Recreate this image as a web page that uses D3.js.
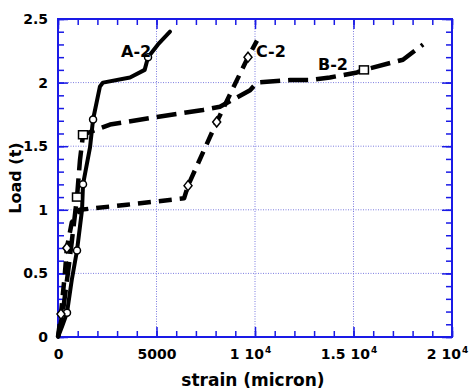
<!DOCTYPE html>
<html>
<head>
<meta charset="utf-8">
<script src="https://cdn.jsdelivr.net/npm/d3@7"></script>
<style>
  html, body { margin: 0; padding: 0; background: #fff; }
  svg { display: block; }
  text { font-family: "DejaVu Sans", "Liberation Sans", Arial, sans-serif; font-weight: bold; fill: #000; }
</style>
</head>
<body>
<svg id="chart" width="471" height="392"></svg>
<script>
// Load–strain curves of three specimens (strain in micron, load in t)
const a2Strain = [0, 200, 457, 700, 965, 1220, 1270, 1625, 1780, 2130, 2285, 3655, 4400, 4570, 5075, 5685];
const a2Load   = [0, 0.08, 0.19, 0.45, 0.68, 1.0, 1.2, 1.49, 1.71, 1.97, 2.0, 2.04, 2.1, 2.2, 2.3, 2.4];
const a2MarkStrain = [457, 965, 1270, 1780, 4570];
const a2MarkLoad   = [0.19, 0.68, 1.2, 1.71, 2.2];

const b2Strain = [0, 250, 500, 700, 965, 1115, 1270, 2640, 5025, 7360, 8220, 9750, 10100, 11780, 12790, 13800, 15180, 15530, 17510, 18530];
const b2Load   = [0, 0.2, 0.5, 0.75, 1.1, 1.39, 1.59, 1.67, 1.73, 1.785, 1.81, 1.94, 2.0, 2.02, 2.02, 2.04, 2.08, 2.1, 2.18, 2.3];
const b2MarkStrain = [965, 1270, 15530];
const b2MarkLoad   = [1.1, 1.59, 2.1];

const c2Strain = [0, 150, 350, 450, 700, 1100, 3500, 6400, 6600, 8055, 9645, 10100];
const c2Load   = [0, 0.18, 0.5, 0.7, 0.9, 1.0, 1.04, 1.09, 1.19, 1.69, 2.2, 2.33];
const c2MarkStrain = [150, 450, 6600, 8055, 9645];
const c2MarkLoad   = [0.18, 0.7, 1.19, 1.69, 2.2];

const xMajor = [0, 5000, 10000, 15000, 20000];
const xTickText = ["0", "5000", "1 10", "1.5 10", "2 10"];
const xTickExp  = ["", "", "4", "4", "4"];
const yMajor = [0, 0.5, 1, 1.5, 2, 2.5];
const yTickText = ["0", "0.5", "1", "1.5", "2", "2.5"];

const seriesNames = ["A-2", "B-2", "C-2"];

const svg = d3.select("#chart");
const W = 471, H = 392;
const m = { left: 58, right: 19, top: 19, bottom: 55 };

const x = d3.scaleLinear().domain([0, 20000]).range([m.left, W - m.right]);
const y = d3.scaleLinear().domain([0, 2.5]).range([H - m.bottom, m.top]);

const axisBlue = "#1a1ae6";
const gridBlue = "#7d7de0";

svg.append("rect").attr("width", W).attr("height", H).attr("fill", "#fff");

// dotted grid at the major ticks
const grid = svg.append("g");
grid.selectAll("line.gx").data(xMajor.slice(1, -1)).join("line")
  .attr("x1", d => x(d)).attr("x2", d => x(d))
  .attr("y1", y(0)).attr("y2", y(2.5))
  .attr("stroke", gridBlue).attr("stroke-width", 1).attr("stroke-dasharray", "1,1.5");
grid.selectAll("line.gy").data(yMajor.slice(1, -1)).join("line")
  .attr("y1", d => y(d)).attr("y2", d => y(d))
  .attr("x1", x(0)).attr("x2", x(20000))
  .attr("stroke", gridBlue).attr("stroke-width", 1).attr("stroke-dasharray", "1,1.5");

// inward ticks on all four sides
const xMinor = d3.range(0, 20001, 1000);
const yMinor = d3.range(0, 26).map(i => i / 10);

function styleAxis(g) {
  g.select(".domain").remove();
  g.selectAll(".tick line").attr("stroke", axisBlue).attr("stroke-width", 1.5);
}

svg.append("g").attr("transform", `translate(0,${y(0)})`)
  .call(d3.axisBottom(x).tickValues(xMinor).tickSize(-6).tickFormat(""))
  .call(styleAxis);
svg.append("g").attr("transform", `translate(0,${y(2.5)})`)
  .call(d3.axisTop(x).tickValues(xMinor).tickSize(-6).tickFormat(""))
  .call(styleAxis);
svg.append("g").attr("transform", `translate(${x(0)},0)`)
  .call(d3.axisLeft(y).tickValues(yMinor).tickSize(-6).tickFormat(""))
  .call(styleAxis);
svg.append("g").attr("transform", `translate(${x(20000)},0)`)
  .call(d3.axisRight(y).tickValues(yMinor).tickSize(-6).tickFormat(""))
  .call(styleAxis);

// major ticks with labels
const xAxisG = svg.append("g").attr("transform", `translate(0,${y(0)})`)
  .call(d3.axisBottom(x).tickValues(xMajor).tickSize(-10).tickPadding(9).tickFormat(""))
  .call(styleAxis);
xAxisG.selectAll(".tick text").each(function(d, i) {
  const t = d3.select(this).attr("font-size", 14).attr("dy", "0.95em")
    .attr("font-family", "DejaVu Sans").attr("font-weight", "bold").attr("fill", "#000");
  const main = t.append("tspan").text(xTickText[i]);
  if (xTickExp[i]) {
    main.attr("dx", -5);
    t.append("tspan").attr("font-size", 9).attr("dy", "-0.7em").attr("dx", "1").text(xTickExp[i]);
  }
});
svg.append("g").attr("transform", `translate(0,${y(2.5)})`)
  .call(d3.axisTop(x).tickValues(xMajor).tickSize(-10).tickFormat(""))
  .call(styleAxis);

const yAxisG = svg.append("g").attr("transform", `translate(${x(0)},0)`)
  .call(d3.axisLeft(y).tickValues(yMajor).tickSize(-10).tickPadding(10)
    .tickFormat((d, i) => yTickText[i]))
  .call(styleAxis);
yAxisG.selectAll(".tick text")
  .attr("font-size", 14).attr("font-family", "DejaVu Sans")
  .attr("font-weight", "bold").attr("fill", "#000");
svg.append("g").attr("transform", `translate(${x(20000)},0)`)
  .call(d3.axisRight(y).tickValues(yMajor).tickSize(-10).tickFormat(""))
  .call(styleAxis);

// frame
svg.append("rect")
  .attr("x", x(0)).attr("y", y(2.5))
  .attr("width", x(20000) - x(0)).attr("height", y(0) - y(2.5))
  .attr("fill", "none").attr("stroke", axisBlue).attr("stroke-width", 2);

// curves
const line = d3.line().x(d => x(d[0])).y(d => y(d[1]));
const zip = (a, b) => a.map((v, i) => [v, b[i]]);

const curves = svg.append("g");
curves.append("path").datum(zip(b2Strain, b2Load)).attr("d", line)
  .attr("fill", "none").attr("stroke", "#000").attr("stroke-width", 4.5)
  .attr("stroke-dasharray", "20,8").attr("stroke-linejoin", "round");
curves.append("path").datum(zip(c2Strain, c2Load)).attr("d", line)
  .attr("fill", "none").attr("stroke", "#000").attr("stroke-width", 4.5)
  .attr("stroke-dasharray", "13,8").attr("stroke-linejoin", "round");
curves.append("path").datum(zip(a2Strain, a2Load)).attr("d", line)
  .attr("fill", "none").attr("stroke", "#000").attr("stroke-width", 4)
  .attr("stroke-linejoin", "round").attr("stroke-linecap", "round");

// markers
const marks = svg.append("g").attr("fill", "#fff").attr("stroke", "#000").attr("stroke-width", 1.5);
marks.selectAll("circle").data(zip(a2MarkStrain, a2MarkLoad)).join("circle")
  .attr("cx", d => x(d[0])).attr("cy", d => y(d[1])).attr("r", 3.5);
marks.selectAll("rect").data(zip(b2MarkStrain, b2MarkLoad)).join("rect")
  .attr("x", d => x(d[0]) - 4.5).attr("y", d => y(d[1]) - 4).attr("width", 9).attr("height", 8);
marks.selectAll("path").data(zip(c2MarkStrain, c2MarkLoad)).join("path")
  .attr("d", d => {
    const cx = x(d[0]), cy = y(d[1]);
    return `M${cx},${cy - 5}L${cx + 4},${cy}L${cx},${cy + 5}L${cx - 4},${cy}Z`;
  });

// series labels
const labelPos = [[3200, 2.2], [13200, 2.1], [10050, 2.2]];
svg.append("g").selectAll("text").data(seriesNames).join("text")
  .attr("x", (d, i) => x(labelPos[i][0]))
  .attr("y", (d, i) => y(labelPos[i][1]))
  .attr("font-size", 16)
  .text(d => d);

// axis titles
svg.append("text").attr("x", (x(0) + x(20000)) / 2 - 2).attr("y", 386)
  .attr("text-anchor", "middle").attr("font-size", 17).text("strain (micron)");
svg.append("text").attr("transform", `translate(21,${(y(0) + y(2.5)) / 2}) rotate(-90)`)
  .attr("text-anchor", "middle").attr("font-size", 16).text("Load (t)");
</script>
</body>
</html>
